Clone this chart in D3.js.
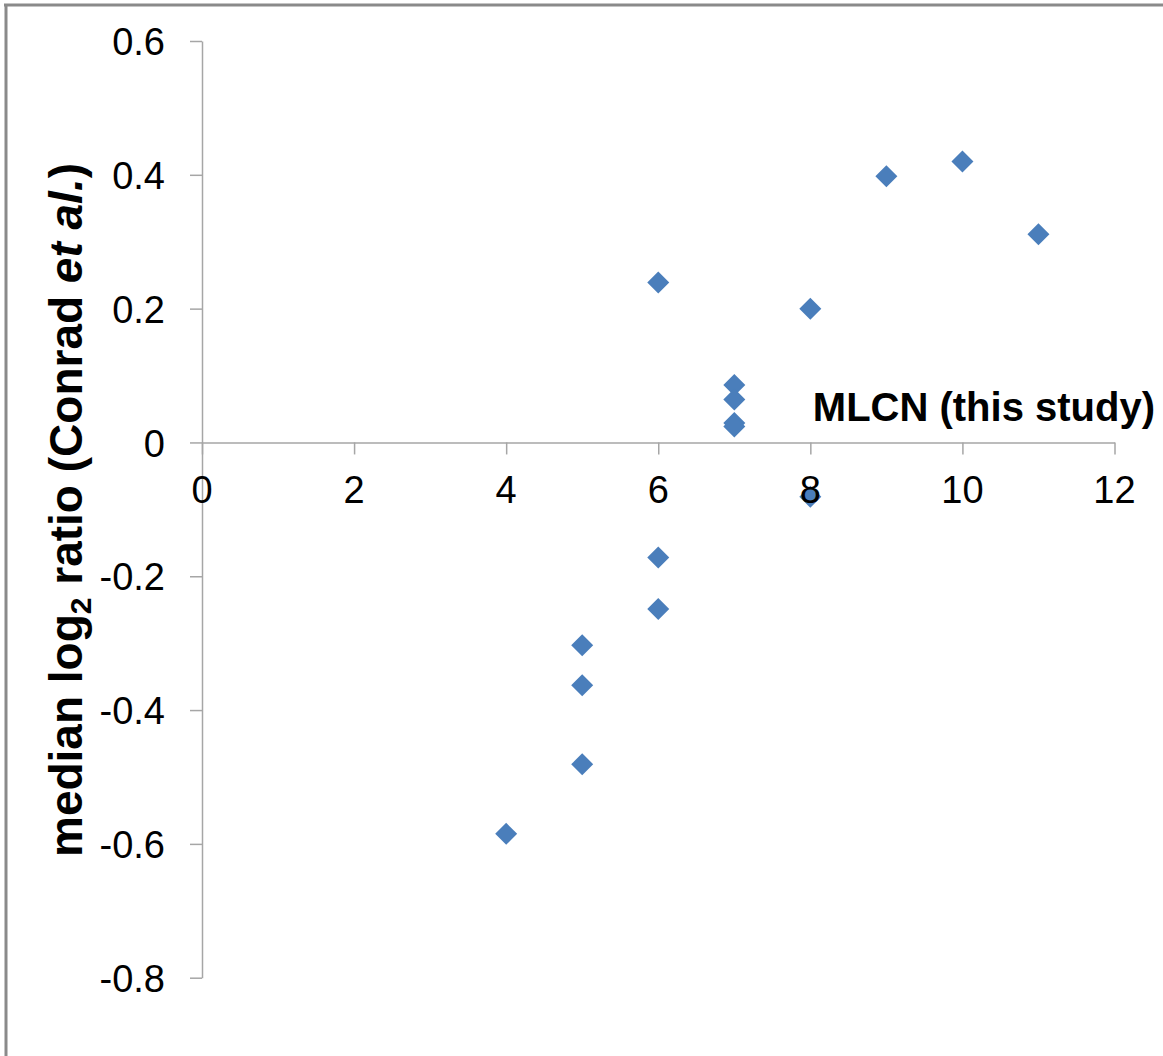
<!DOCTYPE html>
<html>
<head>
<meta charset="utf-8">
<script src="https://cdn.jsdelivr.net/npm/d3@7"></script>
<style>
  html, body { margin: 0; padding: 0; background: #fff; }
  svg { display: block; }
  text { font-family: "Liberation Sans", Arial, sans-serif; }
</style>
</head>
<body>
<script>
// ---- data ----
const mlcn  = [4, 5, 5, 5, 6, 6, 6, 7, 7, 7, 7, 8, 8, 9, 10, 11];
const ratio = [-0.585, -0.481, -0.363, -0.303, -0.249, -0.172, 0.239, 0.086, 0.064, 0.029, 0.024, -0.081, 0.200, 0.398, 0.420, 0.311];
const xTicks = [0, 2, 4, 6, 8, 10, 12];
const yTicks = [-0.8, -0.6, -0.4, -0.2, 0, 0.2, 0.4, 0.6];
const xTitle = "MLCN (this study)";

const W = 1163, H = 1056;
const svg = d3.select("body").append("svg").attr("width", W).attr("height", H);

// frame (top and left)
svg.append("line").attr("x1", 4).attr("x2", W).attr("y1", 5).attr("y2", 5)
  .attr("stroke", "#8a8a8a").attr("stroke-width", 3);
svg.append("line").attr("x1", 6).attr("x2", 6).attr("y1", 4).attr("y2", H)
  .attr("stroke", "#8a8a8a").attr("stroke-width", 3);

const x = d3.scaleLinear().domain([0, 12]).range([202, 1114.5]);
const y = d3.scaleLinear().domain([-0.8, 0.6]).range([977.7, 41]);

const axisColor = "#a6a6a6";

// y axis
const gy = svg.append("g").attr("transform", `translate(${x(0)},0)`)
  .call(d3.axisLeft(y).tickValues(yTicks).tickSize(12).tickSizeOuter(0)
    .tickFormat(d => d3.format(".1f")(d).replace("0.0", "0").replace("−", "-")));
gy.select(".domain").attr("stroke", axisColor).attr("stroke-width", 1.5);
gy.selectAll(".tick line").attr("stroke", axisColor).attr("stroke-width", 1.5);
gy.selectAll(".tick text").attr("x", -37).attr("dy", "0.36em")
  .attr("font-size", 38).attr("fill", "#000").attr("font-family", "Liberation Sans, Arial, sans-serif");

// x axis at y=0
const gx = svg.append("g").attr("transform", `translate(0,${y(0)})`);
gx.call(d3.axisBottom(x).tickValues(xTicks).tickSize(12).tickSizeOuter(0).tickFormat(d3.format("d")));
gx.select(".domain").attr("stroke", axisColor).attr("stroke-width", 1.5);
gx.selectAll(".tick line").attr("stroke", axisColor).attr("stroke-width", 1.5);
gx.selectAll(".tick text").remove();

// points
const pts = mlcn.map((m, i) => ({ m, r: ratio[i] }));
const diamond = d3.symbol().type(d3.symbolSquare).size(242);
svg.append("g").selectAll("path").data(pts).join("path")
  .attr("d", diamond)
  .attr("transform", d => `translate(${x(d.m)},${y(d.r)}) rotate(45)`)
  .attr("fill", "#4a7ebb");

// x tick labels drawn over points
svg.append("g").selectAll("text").data(xTicks).join("text")
  .attr("x", d => x(d)).attr("y", y(0) + 47).attr("dy", "0.36em")
  .attr("text-anchor", "middle").attr("font-size", 38).attr("fill", "#000")
  .text(d => d);

// x title
svg.append("text").attr("x", 1155).attr("y", 421).attr("text-anchor", "end")
  .attr("font-size", 40).attr("font-weight", "bold").attr("fill", "#000")
  .text(xTitle);

// y title
const yt = svg.append("text").attr("transform", "translate(82,510) rotate(-90)")
  .attr("text-anchor", "middle").attr("font-size", 46).attr("font-weight", "bold").attr("fill", "#000");
yt.append("tspan").text("median log");
yt.append("tspan").attr("font-size", 30).attr("dy", 9).text("2");
yt.append("tspan").attr("dy", -9).text(" ratio (Conrad ");
yt.append("tspan").attr("font-style", "italic").text("et al.");
yt.append("tspan").text(")");
</script>
</body>
</html>
